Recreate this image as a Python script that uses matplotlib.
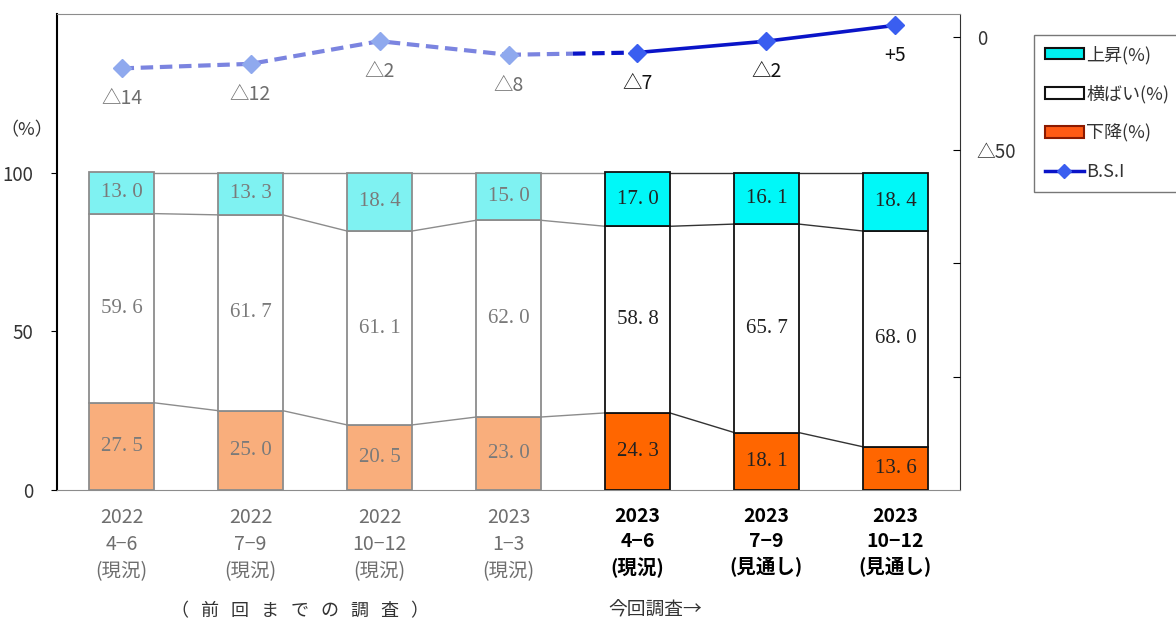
import matplotlib.pyplot as plt
from matplotlib.patches import Patch
from matplotlib.lines import Line2D
import numpy as np

plt.rcParams['font.family'] = ['Noto Sans CJK JP', 'DejaVu Sans']

periods = ["2022\n4−6\n(現況)", "2022\n7−9\n(現況)", "2022\n10−12\n(現況)", "2023\n1−3\n(現況)",
           "2023\n4−6\n(現況)", "2023\n7−9\n(見通し)", "2023\n10−12\n(見通し)"]
up = [13.0, 13.3, 18.4, 15.0, 17.0, 16.1, 18.4]
flat = [59.6, 61.7, 61.1, 62.0, 58.8, 65.7, 68.0]
down = [27.5, 25.0, 20.5, 23.0, 24.3, 18.1, 13.6]
bsi = [-14, -12, -2, -8, -7, -2, 5]
n_past = 4

fig = plt.figure(figsize=(11.76, 6.3), dpi=100)
ax = fig.add_axes([0.0485, 0.2222, 0.7678, 0.7556])
x = np.arange(len(periods))
w = 0.5

up = np.array(up); flat = np.array(flat); down = np.array(down)
past = x < n_past
c_up = np.where(past, '#7ff2f2', '#00f8f8')
c_dn = np.where(past, '#f9ae7c', '#ff6600')
c_edge = np.where(past, '#8c8c8c', '#111111')

ax.bar(x, down, w, color=c_dn, edgecolor=c_edge, linewidth=1.3, zorder=3)
ax.bar(x, flat, w, bottom=down, color='white', edgecolor=c_edge, linewidth=1.3, zorder=3)
ax.bar(x, up, w, bottom=down + flat, color=c_up, edgecolor=c_edge, linewidth=1.3, zorder=3)

# connector lines between bars
levels = [down, down + flat, np.full(len(x), 100.0)]
for lv in levels:
    for i in range(len(x) - 1):
        col = '#8c8c8c' if i < n_past else '#333333'
        ax.plot([x[i] + w / 2, x[i + 1] - w / 2], [lv[i], lv[i + 1]], color=col, lw=1.0, zorder=2)

# value labels
for i in range(len(x)):
    col = '#7a7a7a' if past[i] else '#222222'
    segs = [(down[i] / 2, down[i]), (down[i] + flat[i] / 2, flat[i]), (down[i] + flat[i] + up[i] / 2, up[i])]
    for yc, v in segs:
        ax.text(x[i], yc, f"{v:.1f}".replace('.', '. '), ha='center', va='center',
                fontsize=15, color=col, family='Liberation Serif', zorder=4)

ax.set_xlim(-0.5, 6.5)
ax.set_ylim(0, 150)
ax.set_yticks([0, 50, 100])
ax.tick_params(axis='y', direction='out', length=4, labelsize=13.5, labelcolor='#333333', pad=13)
ax.set_xticks(x)
ax.set_xticklabels(periods, fontsize=14, linespacing=1.4)
ax.tick_params(axis='x', length=0, pad=12)
for i, lab in enumerate(ax.get_xticklabels()):
    if past[i]:
        lab.set_color('#6e6e6e')
    else:
        lab.set_color('black')
        lab.set_fontweight('bold')
ax.spines['left'].set_color('black')
ax.spines['left'].set_linewidth(1.5)
ax.spines['bottom'].set_color('#8c8c8c')
ax.spines['top'].set_color('#8c8c8c')
ax.spines['right'].set_color('#333333')

# BSI on right axis
ax2 = ax.twinx()
ax2.set_ylim(-200, 10)
ax2.set_yticks([0, -50, -100, -150])
ax2.set_yticklabels(['0', '△50', '', ''])
ax2.tick_params(axis='y', direction='in', length=5, labelsize=13.5, labelcolor='#333333', pad=12)
for s in ax2.spines.values():
    s.set_visible(False)

light_line = '#7b84e0'
light_mk = '#8fa9ee'
dark_line = '#0a14c8'
dark_mk = '#3a5ef0'
ax2.plot(x[:n_past], bsi[:n_past], ls=(0, (3, 1.6)), lw=3, color=light_line, zorder=3)
mid_x = (x[n_past - 1] + x[n_past]) / 2
mid_y = (bsi[n_past - 1] + bsi[n_past]) / 2
ax2.plot([x[n_past - 1], mid_x], [bsi[n_past - 1], mid_y], ls=(0, (3, 1.6)), lw=3, color=light_line, zorder=3)
ax2.plot([mid_x, x[n_past]], [mid_y, bsi[n_past]], ls=(0, (3, 1.6)), lw=3, color=dark_line, zorder=3)
ax2.plot(x[n_past:], bsi[n_past:], ls='-', lw=2.6, color=dark_line, zorder=3)
ax2.plot(x[:n_past], bsi[:n_past], ls='none', marker='D', ms=9, color=light_mk, zorder=4)
ax2.plot(x[n_past:], bsi[n_past:], ls='none', marker='D', ms=9, color=dark_mk, zorder=4)

for i, v in enumerate(bsi):
    txt = f"+{v}" if v > 0 else f"△{abs(v)}"
    col = '#6e6e6e' if past[i] else '#111111'
    ax2.annotate(txt, (x[i], v), xytext=(0, -22), textcoords='offset points', ha='center', va='center',
                 fontsize=14, color=col)

fig.text(0.0, 0.793, '（%）', fontsize=13, color='#333333', va='center', ha='left')
fig.text(0.255, 0.015, '（   前   回   ま   で   の   調   査   ）', fontsize=13, color='#333333',
         ha='center', va='bottom')
fig.text(0.517, 0.015, '今回調査→', fontsize=13.5, color='#333333', ha='left', va='bottom')

handles = [Patch(facecolor='#00f0f0', edgecolor='#111111', lw=1.5),
           Patch(facecolor='white', edgecolor='#111111', lw=1.5),
           Patch(facecolor='#ff5a14', edgecolor='#8b1a00', lw=1.5),
           Line2D([0], [0], color=dark_line, lw=2.5, marker='D', ms=7, mfc=dark_mk, mec=dark_mk)]
labels = ['上昇(%)', '横ばい(%)', '下降(%)', 'B.S.I']
leg = fig.legend(handles, labels, loc='upper left', bbox_to_anchor=(0.879, 0.945), fontsize=13,
                 frameon=True, fancybox=False, edgecolor='#555555', handlelength=2.2, handleheight=0.6,
                 handletextpad=0.1, labelspacing=1.15, borderpad=0.6, borderaxespad=0)
leg.get_frame().set_linewidth(1.0)
for t in leg.get_texts():
    t.set_color('#333333')

fig.savefig('out.png', dpi=100)
